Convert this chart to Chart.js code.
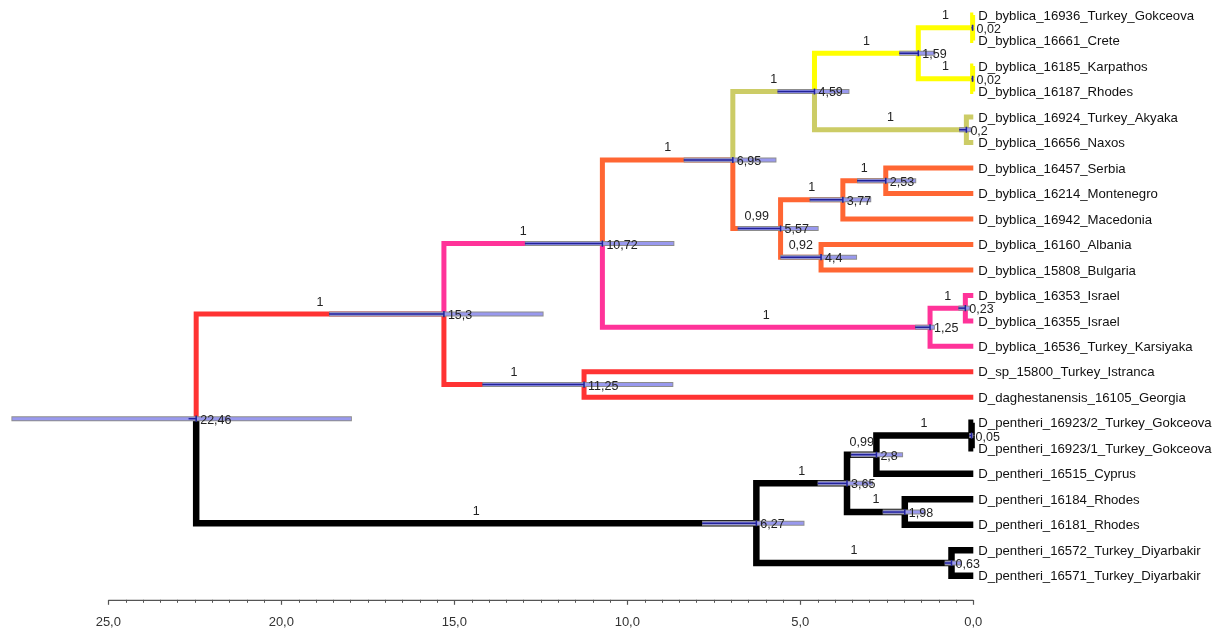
<!DOCTYPE html>
<html><head><meta charset="utf-8">
<script src="https://cdn.jsdelivr.net/npm/chart.js@4.4.1/dist/chart.umd.min.js"></script>
<style>html,body{margin:0;padding:0;background:#fff;}canvas{display:block}</style>
</head><body>
<canvas id="c" width="1223" height="632"></canvas>
<script>
// ---------------- DATA ----------------
const tipNames = [
  'D_byblica_16936_Turkey_Gokceova','D_byblica_16661_Crete','D_byblica_16185_Karpathos','D_byblica_16187_Rhodes',
  'D_byblica_16924_Turkey_Akyaka','D_byblica_16656_Naxos','D_byblica_16457_Serbia','D_byblica_16214_Montenegro',
  'D_byblica_16942_Macedonia','D_byblica_16160_Albania','D_byblica_15808_Bulgaria','D_byblica_16353_Israel',
  'D_byblica_16355_Israel','D_byblica_16536_Turkey_Karsiyaka','D_sp_15800_Turkey_Istranca','D_daghestanensis_16105_Georgia',
  'D_pentheri_16923/2_Turkey_Gokceova','D_pentheri_16923/1_Turkey_Gokceova','D_pentheri_16515_Cyprus','D_pentheri_16184_Rhodes',
  'D_pentheri_16181_Rhodes','D_pentheri_16572_Turkey_Diyarbakir','D_pentheri_16571_Turkey_Diyarbakir'
];
const nodeIds       = ['A','B','C','D','E','F','G','H','I','J','K','L','M','N','O','P','Q','R','S','T','U','root'];
const nodeAges      = [0.02,0.02,1.59,0.2,4.59,2.53,3.77,4.4,5.57,6.95,0.23,1.25,10.72,11.25,15.3,0.05,2.8,1.98,3.65,0.63,6.27,22.46];
const nodePosterior = ['1','1','1','1','1','1','1','0,92','0,99','1','1','1','1','1','1','1','0,99','1','1','1','1',''];
const hpdYoung      = [0.00,0.00,1.10,0.05,3.58,1.65,2.95,3.36,4.47,5.69,0.08,1.11,8.64,8.67,12.42,0.00,2.03,1.39,2.90,0.33,4.88,17.96];
const hpdOld        = [0.05,0.05,2.14,0.41,5.66,3.36,4.73,5.58,6.81,8.37,0.43,1.68,12.96,14.19,18.62,0.12,3.54,2.62,4.50,0.83,7.84,27.80];
const nodeChildren  = [['t0','t1'],['t2','t3'],['A','B'],['t4','t5'],['C','D'],['t6','t7'],['F','t8'],['t9','t10'],['G','H'],['E','I'],
  ['t11','t12'],['K','t13'],['J','L'],['t14','t15'],['M','N'],['t16','t17'],['P','t18'],['t19','t20'],['Q','R'],['t21','t22'],['S','T'],['O','U']];
const rootStubAge = 22.68;
const axisTicks = [25,20,15,10,5,0];
const minorTicks = [0.5,1,1.5,2,2.5,3,3.5,4,4.5,5.5,6,6.5,7,7.5,8,8.5,9,9.5,10.5,11,11.5,12,12.5,13,13.5,14,14.5,15.5,16,16.5,17,17.5,18,18.5,19,19.5,20.5,21,21.5,22,22.5,23,23.5,24,24.5];

// ---------------- STYLE ----------------
const YEL='#ffff00', KHA='#cccc66', ORA='#ff6633', PIN='#ff3399', RED='#ff3333', BLK='#000000';
const branchColor = {
  t0:YEL,t1:YEL,t2:YEL,t3:YEL,A:YEL,B:YEL,C:YEL,
  t4:KHA,t5:KHA,D:KHA,E:KHA,
  t6:ORA,t7:ORA,t8:ORA,t9:ORA,t10:ORA,F:ORA,G:ORA,H:ORA,I:ORA,J:ORA,
  t11:PIN,t12:PIN,t13:PIN,K:PIN,L:PIN,M:PIN,
  t14:RED,t15:RED,N:RED,O:RED,
  t16:BLK,t17:BLK,t18:BLK,t19:BLK,t20:BLK,t21:BLK,t22:BLK,P:BLK,Q:BLK,R:BLK,S:BLK,T:BLK,U:BLK
};

// ---------------- LAYOUT FROM TOPOLOGY ----------------
const age = {}, ypos = {}, parent = {};
tipNames.forEach((n,i)=>{ age['t'+i]=0; ypos['t'+i]=i; });
nodeIds.forEach((id,k)=>{ age[id]=nodeAges[k]; nodeChildren[k].forEach(c=>parent[c]=id); });
function yOf(id){
  if (id in ypos) return ypos[id];
  const ch = nodeChildren[nodeIds.indexOf(id)];
  return (ypos[id] = (yOf(ch[0]) + yOf(ch[1])) / 2);
}
nodeIds.forEach(yOf);

const datasets = [];
const lineDs = (data, color, width, order) => ({type:'scatter', data, showLine:true, borderColor:color, backgroundColor:color,
  borderWidth:width, pointRadius:0, pointHoverRadius:0, tension:0, fill:false, borderJoinStyle:'miter', borderCapStyle:'butt', clip:false, order});

// branches (drawn first / underneath)
nodeIds.forEach((id,k)=>{
  nodeChildren[k].forEach(c=>{
    const col = branchColor[c];
    datasets.push(lineDs([{x:age[id],y:ypos[id]},{x:age[id],y:ypos[c]},{x:age[c],y:ypos[c]}], col, col===BLK?6.5:5, 4));
  });
});
// HPD bars
nodeIds.forEach((id,k)=>{
  const y = ypos[id];
  datasets.push(lineDs([{x:hpdOld[k],y},{x:hpdYoung[k],y}], '#8c8c8c', 5, 3));
  datasets.push(lineDs([{x:hpdOld[k]-0.025,y},{x:hpdYoung[k]+0.025,y}], '#9999ee', 3, 2));
});
// navy part of parent branch under bar + node tick
nodeIds.forEach((id,k)=>{
  const y = ypos[id];
  const pAge = parent[id] ? age[parent[id]] : rootStubAge;
  const start = Math.min(pAge, hpdOld[k]);
  datasets.push(lineDs([{x:start,y},{x:age[id],y}], '#222299', 1.5, 1));
  datasets.push(lineDs([{x:age[id],y:y-0.12},{x:age[id],y:y+0.12}], '#222299', 1.5, 1));
});

const fmt = v => String(v).replace('.', ',');

const treeText = {
  id:'treeText',
  afterDatasetsDraw(chart){
    const {ctx, scales:{x:xs, y:ys}} = chart;
    ctx.save();
    ctx.font = '13.2px "Liberation Sans", Arial, sans-serif';
    ctx.textBaseline = 'middle';
    ctx.fillStyle = '#111';
    ctx.textAlign = 'left';
    tipNames.forEach((n,i)=> ctx.fillText(n, xs.getPixelForValue(0)+5, ys.getPixelForValue(i)+1));
    ctx.fillStyle = '#222';
    ctx.font = '12.5px "Liberation Sans", Arial, sans-serif';
    nodeIds.forEach((id,k)=>{
      ctx.textAlign = 'left';
      ctx.fillText(fmt(nodeAges[k]), xs.getPixelForValue(age[id])+4, ys.getPixelForValue(ypos[id])+1.5);
      if (parent[id]) {
        ctx.textAlign = 'center';
        const mx = (xs.getPixelForValue(age[id]) + xs.getPixelForValue(age[parent[id]]))/2;
        ctx.fillText(nodePosterior[k], mx, ys.getPixelForValue(ypos[id]) - 12);
      }
    });
    ctx.restore();
  },
  afterDraw(chart){
    const {ctx, scales:{x:xs}, chartArea} = chart;
    const yb = chartArea.bottom;
    ctx.save();
    ctx.strokeStyle = '#555';
    ctx.lineWidth = 1.2;
    ctx.beginPath();
    ctx.moveTo(xs.getPixelForValue(axisTicks[0]), yb+0.5);
    ctx.lineTo(xs.getPixelForValue(axisTicks[axisTicks.length-1]), yb+0.5);
    ctx.stroke();
    ctx.lineWidth = 1;
    minorTicks.forEach(v=>{
      const px = Math.round(xs.getPixelForValue(v))+0.5;
      ctx.beginPath(); ctx.moveTo(px, yb); ctx.lineTo(px, yb+3); ctx.stroke();
    });
    ctx.restore();
  }
};

Chart.defaults.font.family = '"Liberation Sans", Arial, sans-serif';
new Chart(document.getElementById('c'), {
  type:'scatter',
  data:{datasets},
  plugins:[treeText],
  options:{
    responsive:false, animation:false, events:[],
    layout:{padding:{left:0, right:249.7, top:0, bottom:-8.4}},
    plugins:{legend:{display:false}, tooltip:{enabled:false}},
    scales:{
      x:{type:'linear', reverse:true, min:0, max:28.13,
        afterBuildTicks: s => { s.ticks = axisTicks.map(v=>({value:v})); },
        border:{display:false},
        grid:{drawOnChartArea:false, drawTicks:true, tickLength:5, tickColor:'#555', tickWidth:1.2},
        ticks:{font:{size:13}, color:'#333', padding:10, maxRotation:0, callback: v => Number(v).toFixed(1).replace('.', ',')}
      },
      y:{type:'linear', display:false, reverse:true, min:-0.5893, max:22.943}
    }
  }
});
</script>
</body></html>
